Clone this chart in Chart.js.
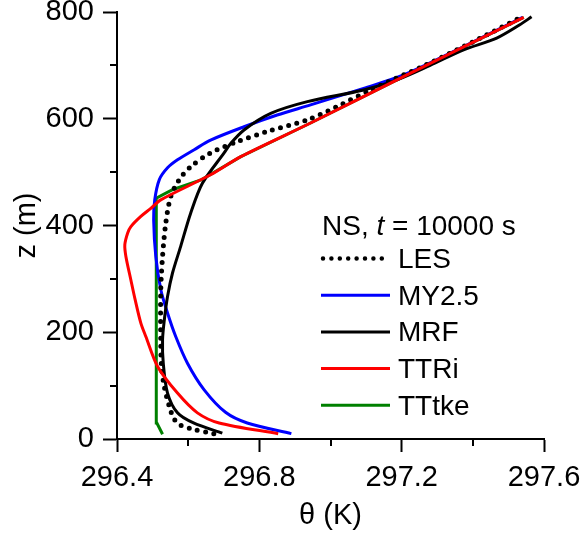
<!DOCTYPE html>
<html>
<head>
<meta charset="utf-8">
<script src="https://cdn.jsdelivr.net/npm/chart.js@4.4.0/dist/chart.umd.min.js"></script>
<style>
    html, body { margin: 0; padding: 0; background: #fff; }
    #wrap { width: 582px; height: 535px; position: relative; }
</style>
</head>
<body>
<div id="wrap"><canvas id="profile"></canvas></div>
<script>
// potential temperature profiles, theta (K) against height z (m)
const seriesNames = ['LES', 'MY2.5', 'MRF', 'TTRi', 'TTtke'];

const lesZ = [10, 18, 26, 38, 61, 98, 136, 186, 280, 342, 404, 454, 486, 510, 536, 557, 576, 598, 623, 654, 700, 750, 790];
const lesTheta = [296.672, 296.615, 296.578, 296.560, 296.547, 296.533, 296.525, 296.523, 296.523, 296.528, 296.537, 296.551,
    296.575, 296.607, 296.663, 296.738, 296.822, 296.935, 297.019, 297.112, 297.265, 297.418, 297.535];

const my25Z = [10, 30, 50, 92, 142, 192, 236, 280, 342, 411, 448, 486, 508, 523, 542, 560, 585, 607, 626, 657, 682, 734, 790];
const my25Theta = [296.890, 296.766, 296.705, 296.645, 296.598, 296.565, 296.542, 296.523, 296.509, 296.503, 296.506, 296.519,
    296.542, 296.570, 296.617, 296.663, 296.757, 296.850, 296.944, 297.093, 297.205, 297.370, 297.540];

const mrfZ = [11, 30, 49, 86, 142, 186, 223, 267, 311, 361, 423, 479, 536, 554, 579, 610, 632, 654, 673, 700, 729, 751, 776, 791];
const mrfTheta = [296.696, 296.615, 296.570, 296.542, 296.530, 296.528, 296.533, 296.542, 296.556, 296.579, 296.607, 296.640,
    296.701, 296.720, 296.757, 296.832, 296.935, 297.093, 297.187, 297.280, 297.374, 297.467, 297.532, 297.565];

const ttriZ = [10, 30, 49, 86, 136, 192, 217, 261, 298, 342, 364, 386, 398, 417, 432, 448, 495, 529, 592, 679, 790];
const ttriTheta = [296.853, 296.687, 296.626, 296.570, 296.514, 296.481, 296.467, 296.451, 296.439, 296.425, 296.422, 296.430,
    296.439, 296.467, 296.495, 296.523, 296.663, 296.748, 296.944, 297.205, 297.543];

const tttkeZ = [9, 30, 100, 200, 300, 400, 451, 467, 486, 529, 592, 679, 790];
const tttkeTheta = [296.528, 296.512, 296.511, 296.510, 296.510, 296.510, 296.511, 296.556, 296.638, 296.748, 296.944,
    297.205, 297.543];

const xMajor = [296.4, 296.8, 297.2, 297.6];
const yMajor = [0, 200, 400, 600, 800];

const family = '"Liberation Sans", Arial, sans-serif';
const fontSize = 29;
Chart.defaults.font.family = family;
Chart.defaults.color = '#000';

function pts(theta, z) {
    return theta.map((t, i) => ({ x: t, y: z[i] }));
}

function isMajor(list, v) {
    return list.some(m => Math.abs(m - v) < 1e-6);
}

// short ticks for the unlabelled steps
const minorTicks = {
    id: 'minorTicks',
    afterDraw(chart) {
        const { ctx, chartArea, scales: { x, y } } = chart;
        ctx.save();
        ctx.strokeStyle = '#000';
        ctx.lineWidth = 2;
        ctx.beginPath();
        x.ticks.forEach(t => {
            if (isMajor(xMajor, t.value)) return;
            const px = Math.round(x.getPixelForValue(t.value));
            ctx.moveTo(px, chartArea.bottom);
            ctx.lineTo(px, chartArea.bottom + 7);
        });
        y.ticks.forEach(t => {
            if (isMajor(yMajor, t.value)) return;
            const py = Math.round(y.getPixelForValue(t.value));
            ctx.moveTo(chartArea.left, py);
            ctx.lineTo(chartArea.left - 7, py);
        });
        ctx.stroke();
        ctx.restore();
    }
};

// legend box inside the plot, with the run title on top
const profileLegend = {
    id: 'profileLegend',
    afterDatasetsDraw(chart) {
        const ctx = chart.ctx;
        const x0 = 321, lineLen = 69, textX = 398;
        const rowTop = 258.5, rowGap = 36.7;
        ctx.save();
        ctx.fillStyle = '#000';
        ctx.textBaseline = 'alphabetic';
        let x = 322;
        [['NS, ', ''], ['t', 'italic '], [' = 10000 s', '']].forEach(([s, style]) => {
            ctx.font = style + '28px ' + family;
            ctx.fillText(s, x, 235);
            x += ctx.measureText(s).width;
        });
        chart.data.datasets.forEach((ds, i) => {
            const cy = rowTop + i * rowGap;
            ctx.beginPath();
            ctx.strokeStyle = ds.borderColor;
            ctx.lineWidth = ds.label === 'LES' ? 4.5 : ds.borderWidth;
            ctx.lineCap = ds.borderCapStyle || 'butt';
            ctx.setLineDash(ds.borderDash || []);
            ctx.moveTo(x0 + (ds.label === 'LES' ? 2 : 0), cy);
            ctx.lineTo(x0 + lineLen, cy);
            ctx.stroke();
            ctx.setLineDash([]);
            ctx.font = '28px ' + family;
            ctx.fillText(ds.label, textX, cy + 9.5);
        });
        ctx.restore();
    }
};

const data = {
    datasets: [{
        label: seriesNames[0],
        data: pts(lesTheta, lesZ),
        borderColor: '#000000',
        borderWidth: 5,
        borderDash: [0, 8.4],
        borderCapStyle: 'round',
        order: 1
    }, {
        label: seriesNames[1],
        data: pts(my25Theta, my25Z),
        borderColor: '#0000ff',
        borderWidth: 3,
        order: 3
    }, {
        label: seriesNames[2],
        data: pts(mrfTheta, mrfZ),
        borderColor: '#000000',
        borderWidth: 3,
        order: 2
    }, {
        label: seriesNames[3],
        data: pts(ttriTheta, ttriZ),
        borderColor: '#ff0000',
        borderWidth: 3,
        order: 0
    }, {
        label: seriesNames[4],
        data: pts(tttkeTheta, tttkeZ),
        borderColor: '#008000',
        borderWidth: 3,
        tension: 0,
        order: 4
    }]
};

const config = {
    type: 'scatter',
    data: data,
    options: {
        responsive: true,
        maintainAspectRatio: false,
        animation: false,
        events: [],
        layout: { padding: { top: 12, right: 38, left: 0, bottom: 0 } },
        datasets: {
            scatter: {
                showLine: true,
                pointRadius: 0,
                tension: 0.3,
                fill: false
            }
        },
        plugins: {
            legend: { display: false },
            tooltip: { enabled: false }
        },
        scales: {
            x: {
                type: 'linear',
                min: 296.4,
                max: 297.6,
                border: { color: '#000', width: 2 },
                grid: {
                    drawOnChartArea: false,
                    tickLength: 13,
                    tickWidth: 2,
                    tickColor: c => isMajor(xMajor, c.tick.value) ? '#000' : 'rgba(0,0,0,0)'
                },
                ticks: {
                    stepSize: 0.2,
                    autoSkip: false,
                    maxRotation: 0,
                    padding: 9,
                    font: { size: fontSize },
                    callback: v => isMajor(xMajor, v) ? v.toFixed(1) : ''
                },
                title: {
                    display: true,
                    text: 'θ (K)',
                    font: { size: fontSize },
                    padding: { top: 0, bottom: 2 }
                },
                afterFit: s => {
                    s.height = 96;
                    s.paddingLeft = 0;
                    s.paddingRight = 0;
                }
            },
            y: {
                type: 'linear',
                min: 0,
                max: 800,
                border: { color: '#000', width: 2 },
                grid: {
                    drawOnChartArea: false,
                    tickLength: 14,
                    tickWidth: 2,
                    tickColor: c => isMajor(yMajor, c.tick.value) ? '#000' : 'rgba(0,0,0,0)'
                },
                ticks: {
                    stepSize: 100,
                    autoSkip: false,
                    padding: 9,
                    font: { size: fontSize },
                    callback: v => isMajor(yMajor, v) ? String(v) : ''
                },
                title: {
                    display: true,
                    text: 'z (m)',
                    font: { size: fontSize },
                    padding: { top: 10, bottom: 0 }
                },
                afterFit: s => {
                    s.width = 117;
                    s.paddingTop = 0;
                    s.paddingBottom = 0;
                }
            }
        }
    },
    plugins: [minorTicks, profileLegend]
};

const profileChart = new Chart(document.getElementById('profile'), config);
</script>
</body>
</html>
